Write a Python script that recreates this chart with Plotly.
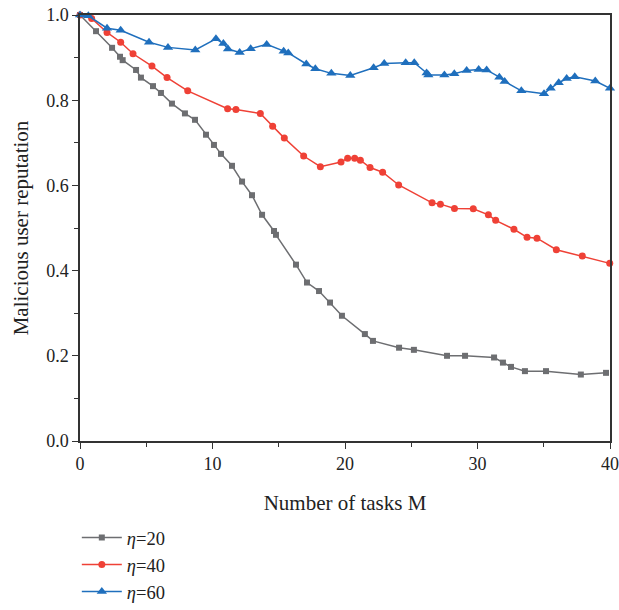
import plotly.graph_objects as go

x20 = [0, 1.21, 2.42, 3.02, 3.22, 4.23, 4.60, 5.51, 6.11, 6.94, 7.92, 8.68, 9.51, 10.11, 10.64,
       11.47, 12.23, 12.98, 13.74, 14.64, 14.79, 16.3, 17.13, 18.04, 18.87, 19.77, 21.5, 22.11,
       24.08, 25.2, 27.7, 29.06, 31.25, 31.92, 32.53, 33.58, 35.17, 37.8, 39.7]
y20 = [1.0, 0.962, 0.923, 0.902, 0.894, 0.871, 0.853, 0.833, 0.817, 0.792, 0.769, 0.754, 0.719, 0.695, 0.674,
       0.646, 0.609, 0.577, 0.531, 0.493, 0.484, 0.414, 0.372, 0.352, 0.325, 0.294, 0.251, 0.235,
       0.219, 0.214, 0.200, 0.200, 0.196, 0.184, 0.174, 0.164, 0.164, 0.156, 0.160]

x40 = [0, 0.88, 2.04, 3.07, 4.0, 5.43, 6.57, 8.13, 11.14, 11.77, 13.61, 14.54, 15.42, 16.88, 18.14,
       19.7, 20.2, 20.73, 21.16, 21.89, 22.84, 24.05, 26.57, 27.2, 28.26, 29.68, 30.82, 31.37,
       32.75, 33.74, 34.49, 35.95, 37.91, 39.98]
y40 = [1.0, 0.992, 0.959, 0.936, 0.909, 0.880, 0.853, 0.822, 0.780, 0.778, 0.769, 0.739, 0.711, 0.669, 0.644,
       0.655, 0.664, 0.664, 0.659, 0.642, 0.631, 0.601, 0.559, 0.556, 0.546, 0.545, 0.531, 0.518,
       0.497, 0.478, 0.476, 0.449, 0.434, 0.417]

x60 = [0, 0.63, 2.04, 3.07, 5.21, 6.64, 8.7, 10.26, 10.82, 11.17, 12.05, 12.88, 14.09, 15.37, 15.72,
       17.08, 17.76, 18.97, 20.4, 22.16, 22.96, 24.58, 25.23, 26.16, 26.29, 27.5, 28.25, 29.18,
       30.09, 30.69, 31.65, 32.05, 33.31, 35.02, 35.52, 36.13, 36.73, 37.34, 38.89, 40.0]
y60 = [1.0, 0.998, 0.969, 0.964, 0.936, 0.924, 0.918, 0.944, 0.933, 0.920, 0.912, 0.921, 0.931, 0.915, 0.911,
       0.885, 0.874, 0.863, 0.858, 0.876, 0.886, 0.888, 0.888, 0.864, 0.859, 0.859, 0.862, 0.870,
       0.872, 0.871, 0.854, 0.844, 0.822, 0.815, 0.828, 0.841, 0.851, 0.855, 0.845, 0.828]

names = ["<i>η</i>=20", "<i>η</i>=40", "<i>η</i>=60"]
colors = ["#6d6e71", "#ef4136", "#1f6fbd"]
symbols = ["square", "circle", "triangle-up"]
sizes = [6, 7, 9]

FONT = "Liberation Serif"
fig = go.Figure()
for xs, ys, n, c, s, sz in zip([x20, x40, x60], [y20, y40, y60], names, colors, symbols, sizes):
    fig.add_trace(go.Scatter(x=xs, y=ys, name=n, mode="lines+markers",
                             line=dict(color=c, width=1.5),
                             marker=dict(symbol=s, size=sz, color=c), cliponaxis=False))

axis_common = dict(showline=True, linecolor="#333333", linewidth=1.5, mirror=True, automargin=False,
                   ticks="outside", ticklen=6, tickcolor="#333333", showgrid=False, zeroline=False,
                   tickfont=dict(family=FONT, size=18, color="#222222"))
fig.update_xaxes(range=[0, 40], tick0=0, dtick=10,
                 minor=dict(ticks="outside", ticklen=4, dtick=5, tickcolor="#333333"),
                 title=dict(text="Number of tasks M", font=dict(family=FONT, size=21, color="#222222"), standoff=22),
                 **axis_common)
fig.update_yaxes(range=[0, 1], tick0=0, dtick=0.2, tickformat=".1f",
                 minor=dict(ticks="outside", ticklen=4, dtick=0.1, tickcolor="#333333"),
                 title=dict(text="Malicious user reputation", font=dict(family=FONT, size=21, color="#222222"), standoff=12),
                 **axis_common)
fig.update_layout(width=619, height=610, margin=dict(l=80, r=9, t=15, b=169, autoexpand=False),
                  plot_bgcolor="white", paper_bgcolor="white",
                  font=dict(family=FONT, size=19, color="#222222"),
                  showlegend=True,
                  legend=dict(x=-0.006, y=-0.183, xanchor="left", yanchor="top",
                              font=dict(family=FONT, size=18.5, color="#222222"),
                              tracegroupgap=0, itemwidth=40, bgcolor="rgba(0,0,0,0)"))
fig.write_html("out.html", config={"displayModeBar": False},
               post_script="document.body.style.margin='0';document.body.style.overflow='hidden';")
